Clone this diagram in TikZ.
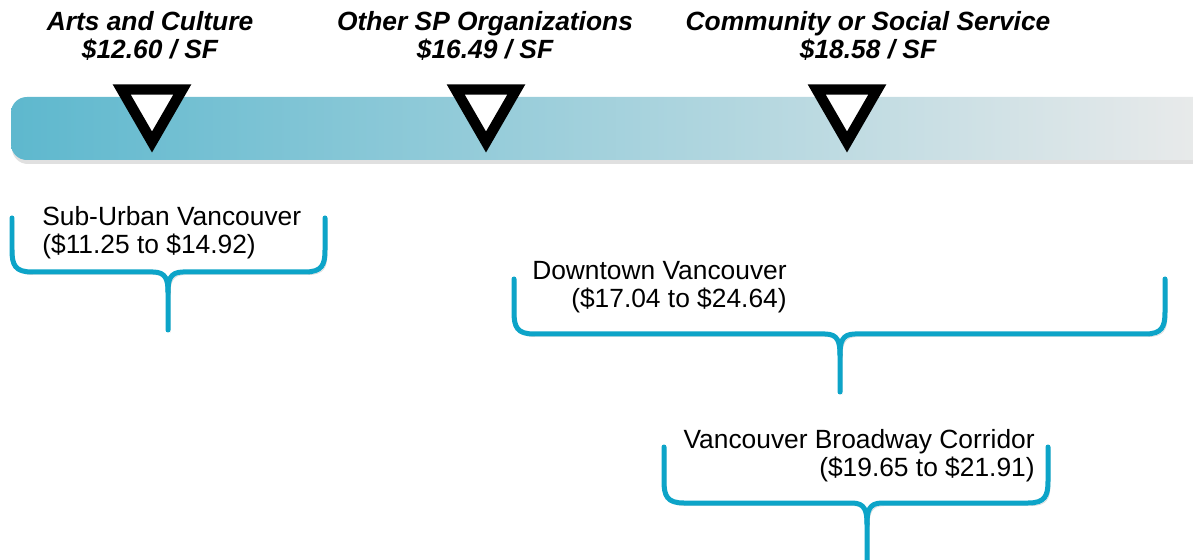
\documentclass[tikz,border=0pt]{standalone}
\usepackage{fontspec}
\setmainfont{Liberation Sans}
\usepackage{tikz}
\usetikzlibrary{shapes.geometric}
\usepackage{xcolor}
\definecolor{barleft}{RGB}{94,184,206}
\definecolor{barmid}{RGB}{172,210,221}
\definecolor{barright}{RGB}{235,235,235}
\definecolor{bracecol}{RGB}{13,164,200}

\begin{document}
\begin{tikzpicture}[
    x=0.02cm, y=-0.02cm,
    ratelabel/.style={align=center, inner sep=0pt, font=\fontsize{15}{16}\selectfont\bfseries\itshape},
    arealabel/.style={inner sep=0pt, font=\fontsize{15}{16}\selectfont},
    pointer/.style={regular polygon, regular polygon sides=3, shape border rotate=180, draw=black, fill=white, line width=0.21cm, inner sep=0pt, minimum size=1.4cm},
    bracket/.style={draw=bracecol, line width=0.1cm, line cap=round,
      preaction={draw=black, opacity=0.15, transform canvas={xshift=1.2pt, yshift=-1.5pt}}}
  ]
    \useasboundingbox (0,0) rectangle (1193,560);

    % rate bar
    \begin{scope}
      \clip (0,0) rectangle (1193,560);
      \fill[black, opacity=0.12, rounded corners=9] (12,101) rectangle (1220,164);
      \shade[left color=barleft, middle color=barmid, right color=barright, rounded corners=9] (11,97) rectangle (1220,160);
    \end{scope}

    \node[ratelabel] (arts) at (150,36) {Arts and Culture\\\$12.60 / SF};
    \node[ratelabel] (other) at (485,36) {Other SP Organizations\\\$16.49 / SF};
    \node[ratelabel] (community) at (868,36) {Community or Social Service\\\$18.58 / SF};

    \node[pointer] (artsmark) at (152,107) {};
    \node[pointer] (othermark) at (486,107) {};
    \node[pointer] (communitymark) at (847,107) {};

    % market ranges
    \node[arealabel, align=left, anchor=west] (suburban) at (42,233) {Sub-Urban Vancouver\\(\$11.25 to \$14.92)};
    \node[arealabel, align=right, anchor=east] (downtown) at (787,287) {Downtown Vancouver\\(\$17.04 to \$24.64)};
    \node[arealabel, align=right, anchor=east] (broadway) at (1035,456) {Vancouver Broadway Corridor\\(\$19.65 to \$21.91)};

    \draw[bracket] (12,218) -- (12,250) .. controls (12,265) and (15,272) .. (32,272) -- (153,272) .. controls (166,272) and (168,280) .. (168,292) -- (168,330);
    \draw[bracket] (325,218) -- (325,250) .. controls (325,265) and (322,272) .. (305,272) -- (183,272) .. controls (170,272) and (168,280) .. (168,292);

    \draw[bracket] (514,279) -- (514,312) .. controls (514,327) and (517,334) .. (534,334) -- (825,334) .. controls (838,334) and (840,342) .. (840,355) -- (840,392);
    \draw[bracket] (1165,279) -- (1165,312) .. controls (1165,327) and (1162,334) .. (1145,334) -- (855,334) .. controls (842,334) and (840,342) .. (840,355);

    \draw[bracket] (664,447) -- (664,481) .. controls (664,496) and (667,503) .. (684,503) -- (852,503) .. controls (865,503) and (867,511) .. (867,524) -- (867,575);
    \draw[bracket] (1048,447) -- (1048,481) .. controls (1048,496) and (1045,503) .. (1028,503) -- (882,503) .. controls (869,503) and (867,511) .. (867,524);
  \end{tikzpicture}
\end{document}
